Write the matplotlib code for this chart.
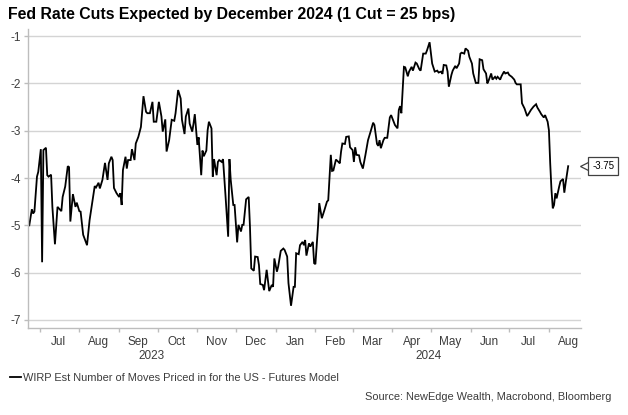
import pandas as pd
import numpy as np
import matplotlib
matplotlib.use('Agg')
import matplotlib.pyplot as plt
import matplotlib.dates as mdates
import matplotlib.transforms as mtransforms
from matplotlib.lines import Line2D

plt.rcParams['font.family'] = ['Liberation Sans', 'DejaVu Sans']
plt.rcParams['axes.unicode_minus'] = False

# WIRP: implied number of Fed moves priced by Dec 2024
dates_2023 = [
    '2023-06-23', '2023-06-25', '2023-06-26', '2023-06-27', '2023-06-29', '2023-06-30',
    '2023-07-02', '2023-07-03', '2023-07-04', '2023-07-06', '2023-07-07', '2023-07-08',
    '2023-07-10', '2023-07-11', '2023-07-13', '2023-07-15', '2023-07-16', '2023-07-18',
    '2023-07-19', '2023-07-21', '2023-07-23', '2023-07-24', '2023-07-25', '2023-07-27',
    '2023-07-29', '2023-07-30', '2023-08-01', '2023-08-02', '2023-08-04', '2023-08-07',
    '2023-08-09', '2023-08-13', '2023-08-14', '2023-08-16', '2023-08-17', '2023-08-19',
    '2023-08-21', '2023-08-23', '2023-08-24', '2023-08-26', '2023-08-27', '2023-08-28',
    '2023-08-30', '2023-09-01', '2023-09-02', '2023-09-03', '2023-09-04', '2023-09-06',
    '2023-09-07', '2023-09-08', '2023-09-10', '2023-09-11', '2023-09-13', '2023-09-14',
    '2023-09-16', '2023-09-18', '2023-09-20', '2023-09-22', '2023-09-23', '2023-09-25',
    '2023-09-27', '2023-09-28', '2023-09-30', '2023-10-02', '2023-10-04', '2023-10-05',
    '2023-10-07', '2023-10-08', '2023-10-10', '2023-10-12', '2023-10-14', '2023-10-15',
    '2023-10-17', '2023-10-19', '2023-10-20', '2023-10-22', '2023-10-23', '2023-10-25',
    '2023-10-26', '2023-10-28', '2023-10-29', '2023-10-30', '2023-11-01', '2023-11-02',
    '2023-11-04', '2023-11-05', '2023-11-06', '2023-11-08', '2023-11-09', '2023-11-10',
    '2023-11-12', '2023-11-13', '2023-11-14', '2023-11-16', '2023-11-17', '2023-11-18',
    '2023-11-20', '2023-11-21', '2023-11-23', '2023-11-25', '2023-11-26', '2023-11-27',
    '2023-11-29', '2023-11-30', '2023-12-02', '2023-12-03', '2023-12-05', '2023-12-06',
    '2023-12-07', '2023-12-09', '2023-12-11', '2023-12-12', '2023-12-13', '2023-12-15',
    '2023-12-16', '2023-12-18', '2023-12-19', '2023-12-20', '2023-12-22', '2023-12-23',
    '2023-12-25', '2023-12-26', '2023-12-27', '2023-12-29', '2023-12-30', '2023-12-31',
]
values_2023 = [
    -5.00, -4.66, -4.75, -4.71, -3.97, -3.87,
    -3.39, -5.78, -3.41, -3.36, -3.94, -3.97,
    -3.93, -4.61, -5.40, -4.61, -4.64, -4.70,
    -4.40, -4.18, -3.75, -3.77, -4.92, -4.34,
    -4.61, -4.52, -4.70, -4.71, -5.20, -5.42,
    -4.89, -4.17, -4.20, -4.10, -4.22, -4.04,
    -3.68, -4.04, -3.69, -3.55, -3.62, -4.21,
    -4.32, -4.40, -4.32, -4.57, -3.83, -3.55,
    -3.80, -3.62, -3.62, -3.39, -3.62, -3.27,
    -3.13, -2.92, -2.27, -2.60, -2.63, -2.63,
    -2.39, -2.81, -2.81, -2.39, -2.70, -3.02,
    -2.76, -3.44, -3.20, -2.77, -2.79, -2.63,
    -2.14, -2.32, -2.77, -3.07, -2.70, -2.53,
    -2.85, -3.02, -2.85, -2.65, -3.30, -3.14,
    -3.94, -3.42, -3.54, -3.42, -2.99, -2.81,
    -2.95, -3.97, -3.60, -3.94, -3.66, -3.62,
    -3.66, -3.60, -4.40, -5.24, -3.60, -4.04,
    -4.57, -4.57, -5.36, -4.99, -5.13, -4.99,
    -4.99, -4.45, -4.40, -5.03, -5.91, -5.96,
    -5.66, -5.67, -5.84, -6.24, -6.26, -6.37,
    -5.94, -6.16, -6.39, -6.26, -6.30, -5.70,
]
dates_2024 = [
    '2024-01-02', '2024-01-03', '2024-01-05', '2024-01-07', '2024-01-08', '2024-01-10',
    '2024-01-11', '2024-01-13', '2024-01-15', '2024-01-16', '2024-01-17', '2024-01-19',
    '2024-01-20', '2024-01-22', '2024-01-23', '2024-01-24', '2024-01-25', '2024-01-27',
    '2024-01-28', '2024-01-30', '2024-01-31', '2024-02-01', '2024-02-03', '2024-02-04',
    '2024-02-06', '2024-02-08', '2024-02-10', '2024-02-11', '2024-02-13', '2024-02-14',
    '2024-02-15', '2024-02-17', '2024-02-19', '2024-02-20', '2024-02-21', '2024-02-22',
    '2024-02-24', '2024-02-25', '2024-02-27', '2024-02-28', '2024-03-01', '2024-03-02',
    '2024-03-03', '2024-03-04', '2024-03-06', '2024-03-07', '2024-03-09', '2024-03-11',
    '2024-03-13', '2024-03-15', '2024-03-17', '2024-03-18', '2024-03-20', '2024-03-21',
    '2024-03-22', '2024-03-23', '2024-03-25', '2024-03-26', '2024-03-28', '2024-03-30',
    '2024-03-31', '2024-04-02', '2024-04-03', '2024-04-05', '2024-04-06', '2024-04-07',
    '2024-04-08', '2024-04-10', '2024-04-11', '2024-04-13', '2024-04-14', '2024-04-16',
    '2024-04-17', '2024-04-19', '2024-04-20', '2024-04-22', '2024-04-23', '2024-04-25',
    '2024-04-27', '2024-04-28', '2024-04-30', '2024-05-02', '2024-05-04', '2024-05-06',
    '2024-05-07', '2024-05-09', '2024-05-10', '2024-05-11', '2024-05-13', '2024-05-14',
    '2024-05-15', '2024-05-17', '2024-05-18', '2024-05-20', '2024-05-21', '2024-05-23',
    '2024-05-24', '2024-05-25', '2024-05-27', '2024-05-28', '2024-05-30', '2024-05-31',
    '2024-06-02', '2024-06-03', '2024-06-05', '2024-06-07', '2024-06-08', '2024-06-10',
    '2024-06-11', '2024-06-13', '2024-06-14', '2024-06-15', '2024-06-17', '2024-06-18',
    '2024-06-20', '2024-06-21', '2024-06-22', '2024-06-24', '2024-06-25', '2024-06-27',
    '2024-06-28', '2024-06-30', '2024-07-01', '2024-07-03', '2024-07-05', '2024-07-06',
    '2024-07-07', '2024-07-09', '2024-07-10', '2024-07-11', '2024-07-13', '2024-07-15',
    '2024-07-16', '2024-07-18', '2024-07-20', '2024-07-22', '2024-07-23', '2024-07-25',
    '2024-07-26', '2024-07-28', '2024-07-29', '2024-07-31', '2024-08-01', '2024-08-02',
    '2024-08-03', '2024-08-04', '2024-08-05', '2024-08-06', '2024-08-07', '2024-08-09',
    '2024-08-10', '2024-08-12', '2024-08-13', '2024-08-14', '2024-08-16',
]
values_2024 = [
    -5.98, -5.87, -5.54, -5.49, -5.52, -5.66,
    -6.22, -6.70, -6.30, -6.30, -5.59, -5.61,
    -5.42, -5.35, -5.42, -5.31, -5.64, -5.38,
    -5.45, -5.35, -5.80, -5.82, -5.03, -4.53,
    -4.85, -4.68, -4.50, -4.47, -3.51, -3.85,
    -3.84, -3.61, -3.66, -3.69, -3.44, -3.27,
    -3.28, -3.13, -3.12, -3.35, -3.41, -3.66,
    -3.35, -3.51, -3.52, -3.66, -3.80, -3.51,
    -3.20, -3.02, -2.83, -2.88, -3.28, -3.32,
    -3.20, -3.37, -3.20, -3.15, -3.15, -2.72,
    -2.67, -2.81, -2.88, -2.95, -2.56, -2.48,
    -2.63, -1.65, -1.66, -1.85, -1.75, -1.65,
    -1.73, -1.56, -1.58, -1.70, -1.73, -1.37,
    -1.37, -1.30, -1.13, -1.58, -1.75, -1.73,
    -1.77, -1.75, -1.80, -1.61, -1.62, -1.75,
    -2.07, -1.82, -1.73, -1.63, -1.68, -1.58,
    -1.37, -1.35, -1.37, -1.26, -1.31, -1.44,
    -1.58, -1.79, -1.99, -1.99, -1.49, -1.51,
    -1.70, -1.79, -2.00, -1.94, -1.79, -1.92,
    -1.86, -1.90, -1.86, -1.92, -1.85, -1.75,
    -1.79, -1.77, -1.82, -1.86, -1.92, -1.99,
    -2.02, -2.02, -2.02, -2.42, -2.53, -2.69,
    -2.65, -2.56, -2.49, -2.44, -2.51, -2.60,
    -2.65, -2.72, -2.67, -2.81, -2.99, -3.69,
    -4.25, -4.64, -4.57, -4.32, -4.43, -4.18,
    -4.07, -4.02, -4.31, -4.11, -3.75,
]
last_label = '-3.75'
series_name = 'WIRP Est Number of Moves Priced in for the US - Futures Model'
title = 'Fed Rate Cuts Expected by December 2024 (1 Cut = 25 bps)'
source = 'Source: NewEdge Wealth, Macrobond, Bloomberg'

dates = pd.to_datetime(dates_2023 + dates_2024)
values = np.array(values_2023 + values_2024)

text_col = '#3c3c3c'
grid_col = '#d4d4d4'
spine_col = '#bdbdbd'

fig = plt.figure(figsize=(6.28, 4.15), dpi=100)
ax = fig.add_axes([28 / 628, 1 - 328 / 415, 553 / 628, 299 / 415])

ax.plot(dates, values, color='black', lw=1.3, solid_joinstyle='miter')

ax.set_ylim(-7.17, -0.85)
ax.set_yticks([-1, -2, -3, -4, -5, -6, -7])
ax.yaxis.grid(True, color=grid_col, lw=1.0)
ax.set_axisbelow(True)

ax.set_xlim(pd.Timestamp('2023-06-22'), pd.Timestamp('2024-08-26'))
ax.xaxis.set_major_locator(mdates.MonthLocator(bymonthday=1))
ax.xaxis.set_major_formatter(plt.NullFormatter())
ax.xaxis.set_minor_locator(mdates.MonthLocator(bymonthday=16))
ax.xaxis.set_minor_formatter(mdates.DateFormatter('%b'))
ax.tick_params(axis='x', which='major', length=3, color=spine_col, width=1)
ax.tick_params(axis='x', which='minor', length=0, pad=6, labelsize=8.5, labelcolor=text_col)
ax.tick_params(axis='y', length=3, color=spine_col, width=1, pad=2,
               labelsize=8.5, labelcolor=text_col)

for side in ['top', 'right']:
    ax.spines[side].set_visible(False)
for side in ['left', 'bottom']:
    ax.spines[side].set_color(spine_col)
    ax.spines[side].set_linewidth(1.0)

# year labels centred under each year's visible span
x0, x1 = ax.get_xlim()
jan1 = mdates.date2num(pd.Timestamp('2024-01-01'))
ax.text((x0 + jan1) / 2, -0.095, '2023', transform=ax.get_xaxis_transform(),
        ha='center', va='center', fontsize=8.5, color=text_col)
ax.text((jan1 + x1) / 2, -0.095, '2024', transform=ax.get_xaxis_transform(),
        ha='center', va='center', fontsize=8.5, color=text_col)

# last value callout at right edge
notch = mtransforms.offset_copy(ax.get_yaxis_transform(), fig=fig, x=4.5, y=0, units='dots')
ax.plot([1.0], [values[-1]], marker='<', ms=8, mfc='white', mec='#404040', mew=0.9,
        transform=notch, clip_on=False, zorder=3)
ax.annotate(last_label, xy=(1.0, values[-1]), xycoords=('axes fraction', 'data'),
            xytext=(16, 0), textcoords='offset points', ha='center', va='center',
            fontsize=7, color='black', annotation_clip=False, zorder=4,
            bbox=dict(boxstyle='square,pad=0.4', fc='white', ec='#404040', lw=0.9))

fig.text(8 / 628, 1 - 19 / 415, title, fontsize=11.4, fontweight='bold',
         ha='left', va='baseline', color='black')

handle = Line2D([], [], color='black', lw=1.3)
fig.legend([handle], [series_name], loc='center left',
           bbox_to_anchor=(10 / 628, 1 - 378 / 415), frameon=False,
           fontsize=7.9, labelcolor=text_col, handlelength=1.0, handletextpad=0.15,
           borderpad=0, borderaxespad=0)

fig.text(611 / 628, 1 - 397 / 415, source, fontsize=7.9, color=text_col,
         ha='right', va='center')

fig.savefig('out.png', dpi=100)
